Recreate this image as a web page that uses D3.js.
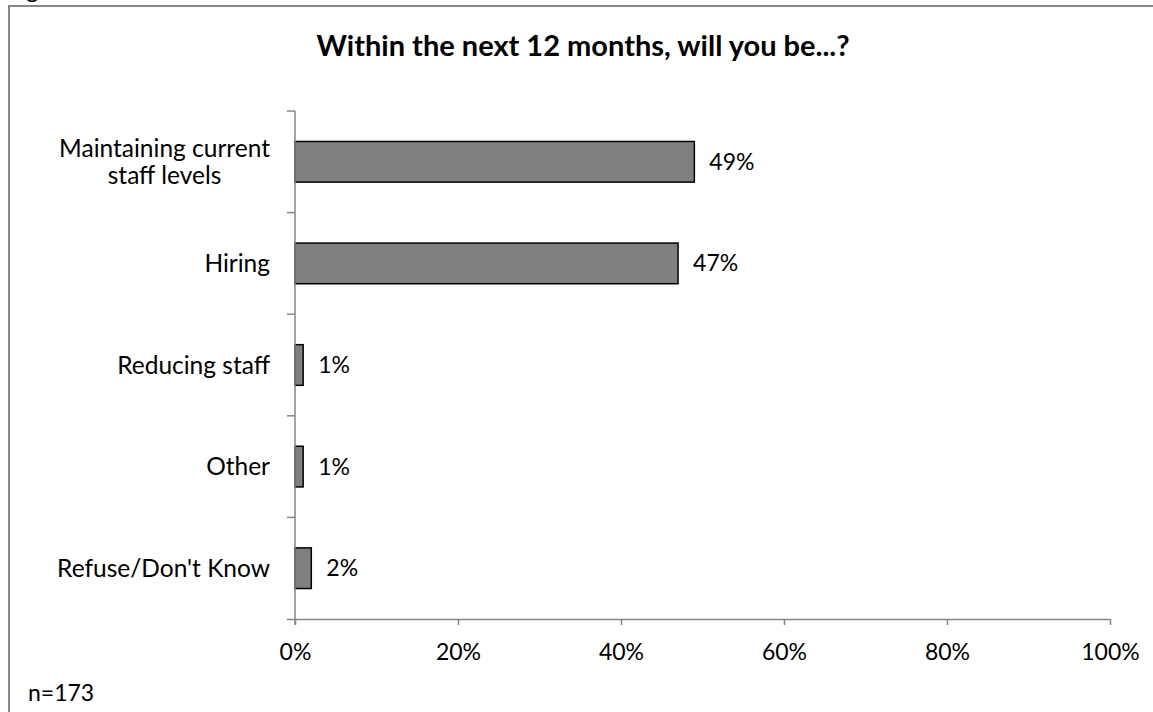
<!DOCTYPE html>
<html>
<head>
<meta charset="utf-8">
<script src="https://cdn.jsdelivr.net/npm/d3@7"></script>
<style>
  body { margin: 0; background: #fff; }
  svg { display: block; }
  text { font-family: Lato, "Open Sans", sans-serif; fill: #000; }
</style>
</head>
<body>
<svg id="chart" width="1153" height="712"></svg>
<script>
const categories = [["Maintaining current", "staff levels"], ["Hiring"], ["Reducing staff"], ["Other"], ["Refuse/Don't Know"]];
const values = [49, 47, 1, 1, 2];
const xTicks = [0, 20, 40, 60, 80, 100];
const title = "Within the next 12 months, will you be...?";
const note = "n=173";

(function () {
const svg = d3.select("#chart");
const pLeft = 295, pRight = 1110, pTop = 111, pBottom = 619;
const catSize = 24.5, numSize = 23;

// outer frame (extends past the picture on the right and bottom)
svg.append("rect").attr("x", 9).attr("y", 6).attr("width", 1200).attr("height", 800)
  .attr("fill", "none").attr("stroke", "#868686").attr("stroke-width", 2);

// clipped text fragment at top
svg.append("text").attr("x", 26).attr("y", -2).attr("font-size", 24).text("g");

svg.append("text").attr("x", 583).attr("y", 56).attr("text-anchor", "middle")
  .attr("font-size", 29).attr("font-weight", "bold").text(title);

const x = d3.scaleLinear().domain([0, 100]).range([pLeft, pRight]);
const idx = d3.range(categories.length);
const y = d3.scaleBand().domain(idx).range([pTop, pBottom]).paddingInner(0.6).paddingOuter(0.3);
const yb = d3.scaleBand().domain(idx).range([pTop, pBottom]);

// bars
svg.append("g").selectAll("rect").data(values).join("rect")
  .attr("x", x(0)).attr("y", (d, i) => y(i))
  .attr("width", d => x(d) - x(0)).attr("height", y.bandwidth())
  .attr("fill", "#808080").attr("stroke", "#000").attr("stroke-width", 1.5);

// value labels
svg.append("g").selectAll("text").data(values).join("text")
  .attr("x", d => x(d) + 15).attr("y", (d, i) => y(i) + y.bandwidth() / 2)
  .attr("dy", "0.35em").attr("font-size", numSize).text(d => d + "%");

// x axis
const xAxis = d3.axisBottom(x).tickValues(xTicks).tickFormat(d => d + "%").tickSize(6).tickSizeOuter(0);
const gx = svg.append("g").attr("transform", `translate(0,${pBottom})`).call(xAxis);
gx.select(".domain").attr("stroke", "#868686").attr("stroke-width", 1.5).attr("d", `M${pLeft - 8},0.5H${pRight}`);
gx.selectAll(".tick line").attr("stroke", "#868686").attr("stroke-width", 1.5);
gx.selectAll(".tick text").attr("font-size", numSize).attr("dy", 0).attr("y", 41)
  .attr("font-family", "Lato, sans-serif").attr("fill", "#000");

// y axis: line with boundary ticks
const gy = svg.append("g");
gy.append("line").attr("x1", pLeft).attr("x2", pLeft).attr("y1", pTop).attr("y2", pBottom + 6)
  .attr("stroke", "#868686").attr("stroke-width", 1.5);
const bounds = idx.map(i => yb(i));
gy.selectAll("line.t").data(bounds).join("line").attr("class", "t")
  .attr("x1", pLeft - 8).attr("x2", pLeft).attr("y1", d => d).attr("y2", d => d)
  .attr("stroke", "#868686").attr("stroke-width", 1.5);

// category labels
const lab = svg.append("g");
categories.forEach((lines, i) => {
  const cy = y(i) + y.bandwidth() / 2;
  const lh = 27;
  const ms = lines.map(l => { const e = lab.append("text").attr("font-size", catSize).text(l); const w = e.node().getComputedTextLength(); e.remove(); return w; });
  const maxW = d3.max(ms);
  const cx = 270 - maxW / 2;
  const t = lab.append("text").attr("font-size", catSize).attr("text-anchor", "middle");
  lines.forEach((l, j) => {
    t.append("tspan").attr("x", cx).attr("y", cy + (j - (lines.length - 1) / 2) * lh).attr("dy", "0.35em").text(l);
  });
});

svg.append("text").attr("x", 28).attr("y", 701).attr("font-size", numSize).text(note);
})();
</script>
</body>
</html>
